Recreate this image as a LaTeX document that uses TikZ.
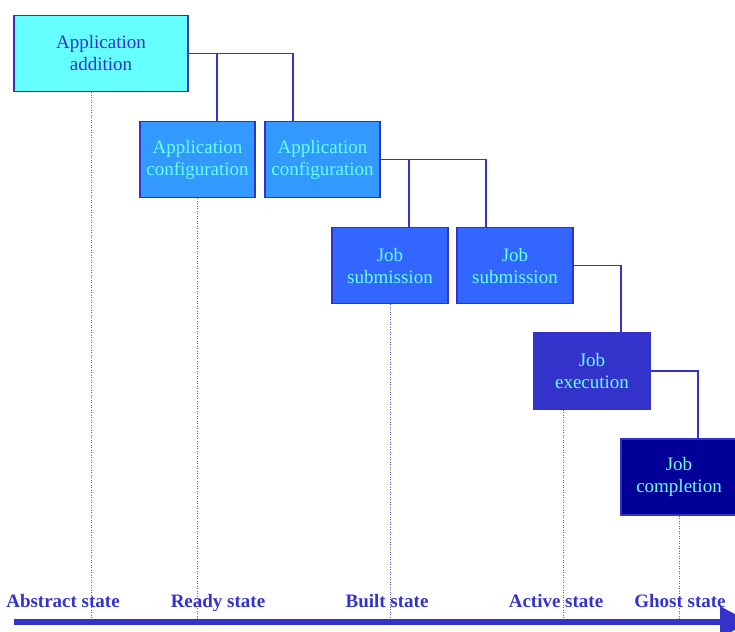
\documentclass[tikz,border=0pt]{standalone}
\usepackage{fontspec}
\setmainfont{Liberation Serif}
\usetikzlibrary{arrows.meta,positioning}
\definecolor{dblue}{HTML}{3333CC}
\definecolor{cyanfill}{HTML}{66FFFF}
\definecolor{cfgfill}{HTML}{3399FF}
\definecolor{subfill}{HTML}{3366FF}
\definecolor{exefill}{HTML}{3333CC}
\definecolor{cmpfill}{HTML}{000099}
\definecolor{dotblue}{HTML}{5555EE}
\tikzset{
  box/.style={draw=dblue, line width=1.2pt, minimum height=76pt, align=center,
    font=\fontsize{19}{22}\selectfont, inner sep=0pt},
  lightbox/.style={box, fill=cyanfill, text=dblue},
  darkbox/.style={box, text=cyanfill},
  conn/.style={draw=dblue, line width=1.2pt},
  guide/.style={draw=dotblue, line width=0.8pt, dash pattern=on 0.9pt off 1.6pt},
  statelabel/.style={text=dblue, font=\fontsize{19}{22}\selectfont\bfseries, inner sep=0pt, anchor=base}
}
\begin{document}
\begin{tikzpicture}[x=1pt,y=-1pt]
\useasboundingbox (0,0) rectangle (735,631);
% boxes
\node[lightbox, minimum width=174pt] (add) at (101,53.5) {Application\\addition};
\node[darkbox, fill=cfgfill, minimum width=115pt] (cfgA) at (197.5,159.5) {Application\\configuration};
\node[darkbox, fill=cfgfill, minimum width=115pt] (cfgB) at (322.5,159.5) {Application\\configuration};
\node[darkbox, fill=subfill, minimum width=116pt] (subA) at (390,265.5) {Job\\submission};
\node[darkbox, fill=subfill, minimum width=116pt] (subB) at (515,265.5) {Job\\submission};
\node[darkbox, fill=exefill, minimum width=116pt] (exe) at (592,371) {Job\\execution};
\node[darkbox, fill=cmpfill, minimum width=116pt] (cmp) at (679,477) {Job\\completion};
% axis
\coordinate (axL) at (14,622);
\coordinate (axR) at (750,622);
% guides
\draw[guide] ([xshift=-10pt]add.south) -- ([xshift=-10pt]add.south |- axL);
\draw[guide] (cfgA.south) -- (cfgA.south |- axL);
\draw[guide] (subA.south) -- (subA.south |- axL);
\draw[guide] ([xshift=-29pt]exe.south) -- ([xshift=-29pt]exe.south |- axL);
\draw[guide] (cmp.south) -- (cmp.south |- axL);
% connectors
\draw[conn] (add.east) -| ([xshift=-29.5pt]cfgB.north);
\draw[conn] ([xshift=19.5pt]cfgA.north) -- ([xshift=19.5pt]cfgA.north |- add.east);
\draw[conn] (cfgB.east) -| ([xshift=-29pt]subB.north);
\draw[conn] ([xshift=19pt]subA.north) -- ([xshift=19pt]subA.north |- cfgB.east);
\draw[conn] (subB.east) -| ([xshift=29pt]exe.north);
\draw[conn] (exe.east) -| ([xshift=19pt]cmp.north);
% axis arrow
\draw[dblue, line width=6pt, -{Triangle[length=30pt,width=30pt]}] (axL) -- (axR);
% labels
\node[statelabel] (l1) at (63,607) {Abstract state};
\node[statelabel] (l2) at (218,607) {Ready state};
\node[statelabel] (l3) at (387,607) {Built state};
\node[statelabel] (l4) at (556,607) {Active state};
\node[statelabel] (l5) at (680,607) {Ghost state};
\end{tikzpicture}
\end{document}
